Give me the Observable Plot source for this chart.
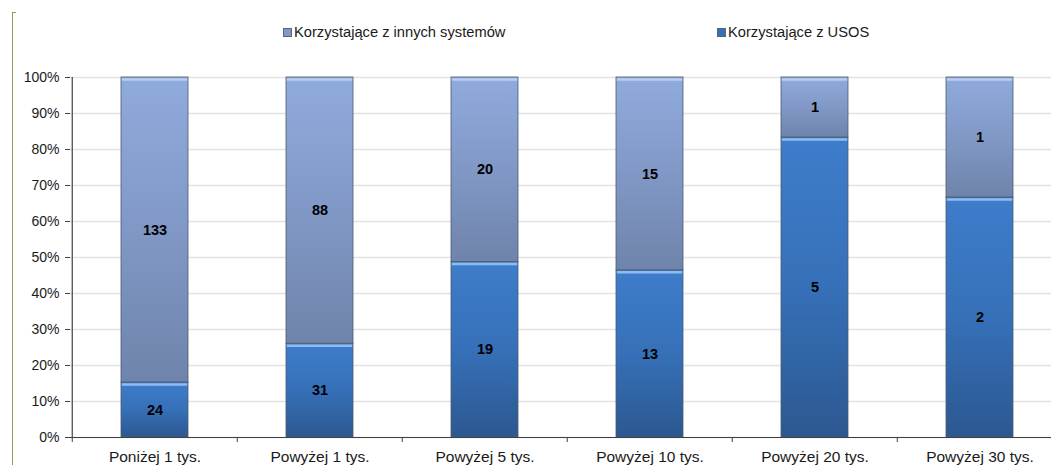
<!DOCTYPE html>
<html><head><meta charset="utf-8">
<script src="https://cdn.jsdelivr.net/npm/d3@7"></script>
<script src="https://cdn.jsdelivr.net/npm/@observablehq/plot@0.6"></script>
<style>
html,body{margin:0;padding:0;background:#fff;overflow:hidden;}
#wrap{position:relative;width:1051px;height:465px;font-family:"Liberation Sans",Arial,sans-serif;}
#border{position:absolute;left:12px;top:12px;width:3px;height:460px;border-left:1.5px solid #8ca05a;border-top:1.5px solid #8ca05a;}
.leg{position:absolute;top:24px;font-size:14.7px;color:#1a1a1a;display:flex;align-items:center;white-space:nowrap;}
.sw{width:7px;height:7px;margin-right:2px;display:inline-block;}
#chart{position:absolute;left:0;top:0;}
</style></head>
<body><div id="wrap"><div id="border"></div><div id="chart"></div></div>
<script>
const categories = ["Poniżej 1 tys.","Powyżej 1 tys.","Powyżej 5 tys.","Powyżej 10 tys.","Powyżej 20 tys.","Powyżej 30 tys."];
const series = ["Korzystające z USOS","Korzystające z innych systemów"];
const usos = [24, 31, 19, 13, 5, 2];
const inne = [133, 88, 20, 15, 1, 1];
const yTicks = [0,0.1,0.2,0.3,0.4,0.5,0.6,0.7,0.8,0.9,1];

const data = [];
categories.forEach((c,i)=>{
  data.push({cat:c, s:series[0], v:usos[i]});
  data.push({cat:c, s:series[1], v:inne[i]});
});

const W = 1051, H = 465, mL = 70, mR = -12, mT = 77, mB = 28;
const step = (W - mL - mR) / categories.length;
const pad = 0.595;
const fills = {[series[0]]:"url(#gUsos)", [series[1]]:"url(#gInne)"};
const hl = {[series[0]]:"#8fbcf0", [series[1]]:"#b9cdf0"};
const stackOpts = {x:"cat", y:"v", z:"s", offset:"normalize", order: series};

const plot = Plot.plot({
  width: W, height: H,
  marginLeft: mL, marginRight: mR, marginTop: mT, marginBottom: mB,
  style: {fontFamily: '"Liberation Sans", Arial, sans-serif', fontSize: "14px", color: "#1a1a1a", overflow: "visible"},
  x: {domain: categories, paddingInner: pad, paddingOuter: pad/2, label: null},
  y: {domain: [0,1], label: null},
  marks: [
    Plot.gridY(yTicks, {stroke: "#e3e3e3", strokeOpacity: 1, strokeWidth: 1.5}),
    Plot.axisY({ticks: yTicks, tickFormat: d3.format(".0%"), tickSize: 5, tickPadding: 6, stroke: "#404040", fontSize: 14, label: null}),
    Plot.barY(data, Plot.stackY({...stackOpts, fill: d => fills[d.s], stroke: "#4d5a6e", strokeWidth: 0.8})),
    Plot.tickY(data, Plot.stackY2({...stackOpts, stroke: d => hl[d.s], strokeWidth: 2.5, dy: 2, insetLeft: 0.8, insetRight: 0.8})),
    Plot.text(data, Plot.stackY({...stackOpts, text: d => String(d.v), fontWeight: "bold", fontSize: 14.5, fill: "#000"})),
    Plot.ruleY([0], {stroke: "#404040", strokeWidth: 1.2}),
    Plot.ruleX([categories[0]], {dx: -step/2, stroke: "#404040", strokeWidth: 1.2}),
    Plot.axisX({tickSize: 5, text: null, dx: -step/2, stroke: "#404040"}),
    Plot.axisX({tickSize: 0, tickPadding: 13, fontSize: 15.5, label: null})
  ]
});

const svg = d3.select(plot);
const defs = svg.insert("defs", ":first-child");
function grad(id, stops){
  const g = defs.append("linearGradient").attr("id", id).attr("x1",0).attr("y1",0).attr("x2",0).attr("y2",1);
  stops.forEach(([o,c])=>g.append("stop").attr("offset",o).attr("stop-color",c));
}
grad("gUsos", [[0,"#3e7dcb"],[0.5,"#3670b8"],[1,"#2c5890"]]);
grad("gInne", [[0,"#8fabdc"],[0.5,"#8198c6"],[1,"#6e84ab"]]);
document.getElementById("chart").appendChild(plot);

// legend
const wrap = document.getElementById("wrap");
const legendItems = [
  {name: series[1], color: "#8198c6", left: 283},
  {name: series[0], color: "#3670b8", left: 717}
];
legendItems.forEach(it=>{
  const d = document.createElement("div");
  d.className = "leg"; d.style.left = it.left + "px";
  d.innerHTML = `<span class="sw" style="background:${it.color};border:0.5px solid #55657a"></span>${it.name}`;
  wrap.appendChild(d);
});
</script>
</body></html>
